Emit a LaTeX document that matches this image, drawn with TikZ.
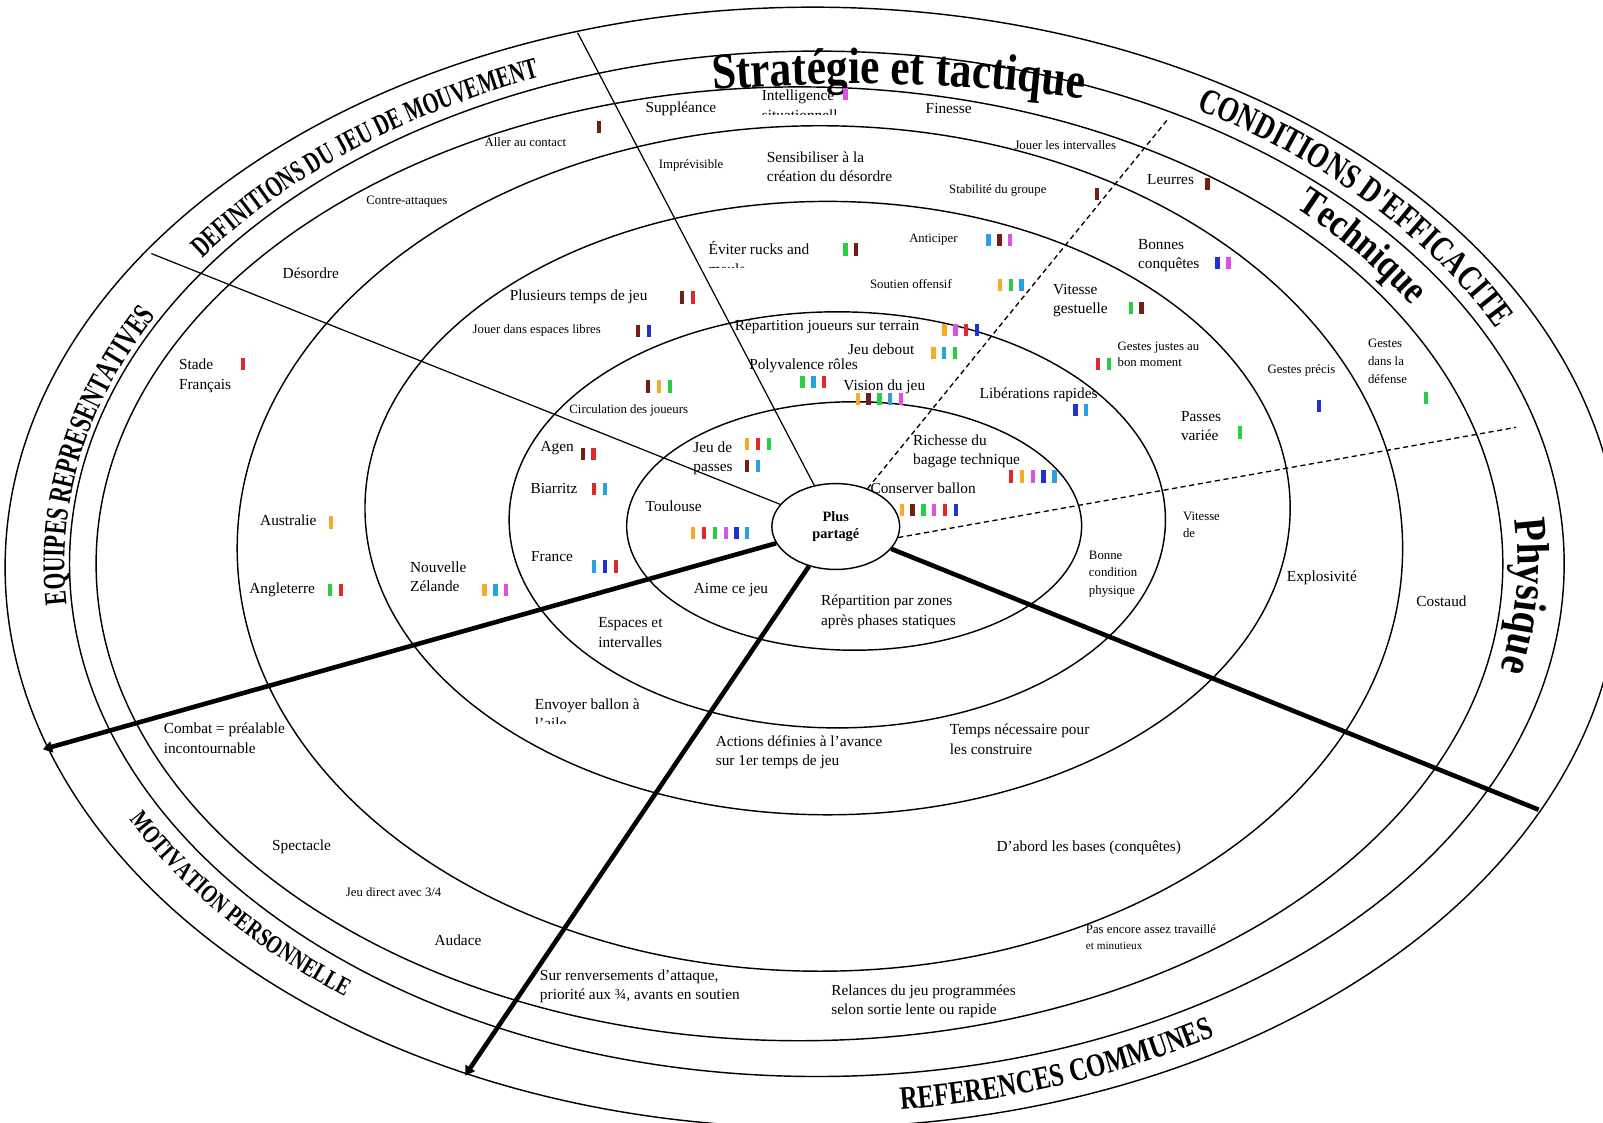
\documentclass[tikz,border=0pt]{standalone}
\usepackage{fontspec}
\setmainfont{Liberation Serif}
\newfontfamily\headA[FakeStretch=0.68]{Liberation Serif}
\newfontfamily\headB[FakeStretch=0.76]{Liberation Serif}
\newfontfamily\headC[FakeStretch=0.85]{Liberation Serif}
\usetikzlibrary{shapes.geometric,arrows.meta,decorations.text}
\definecolor{barorange}{RGB}{245,170,40}
\definecolor{barbrown}{RGB}{115,30,20}
\definecolor{bargreen}{RGB}{40,205,70}
\definecolor{barpink}{RGB}{220,80,230}
\definecolor{barred}{RGB}{225,40,40}
\definecolor{barblue}{RGB}{30,50,210}
\definecolor{barcyan}{RGB}{40,160,225}
\newcommand{\bars}[3]{\foreach \barcol [count=\barnum from 0] in {#3} {\fill[fill=\barcol] ({#1+10.6*\barnum-2.1},{-#2-6}) rectangle ++(4.2,12);}}
\newcommand{\arclabel}[6]{\path[decorate,decoration={text along path,text align=center,text={#6}}] (#1) ++(#4:#2 and #3) arc[start angle=#4,end angle=#5,x radius=#2,y radius=#3];}

\begin{document}
\begin{tikzpicture}[x=1pt,y=1pt]
  \tikzset{ring/.style={draw, line width=1.4pt}}
  \tikzset{sector/.style={line width=1.2pt}}
  \tikzset{arm/.style={line width=4.5pt}}
  \tikzset{split/.style={line width=1.3pt, dash pattern=on 5pt off 3.5pt}}
  \tikzset{lab/.style={inner sep=0pt, align=left, font=\fontsize{15}{19}\selectfont}}
  \tikzset{small/.style={inner sep=0pt, align=left, font=\fontsize{12.5}{16}\selectfont}}
  \useasboundingbox (0,-1098) rectangle (1568,0);
  \clip (0,-1098) rectangle (1568,0);

  \draw[ring] (835.5,-514.5) ellipse [x radius=222.5, y radius=121.5];
  \draw[ring] (819,-508.5) ellipse [x radius=321, y radius=203.5];
  \draw[ring] (809.5,-497) ellipse [x radius=452.5, y radius=300];
  \draw[ring] (802,-536.5) ellipse [x radius=570, y radius=413.5];
  \draw[ring] (782,-551.5) ellipse [x radius=688, y radius=466.5];
  \draw[ring] (799,-551.5) ellipse [x radius=731, y radius=501.5];
  \draw[ring] (795,-555) ellipse [x radius=790, y radius=548];

  \node[draw, ellipse, line width=1.4pt, minimum width=125pt, minimum height=84pt, inner sep=0pt, fill=white, align=center, font=\fontsize{14}{17}\selectfont\bfseries] (core) at (817.5,-515) {Plus\\partagé};

  \coordinate (topcut) at (565,-32);
  \coordinate (leftcut) at (148,-248);
  \coordinate (armW) at (42,-733);
  \coordinate (armS) at (455,-1052);
  \coordinate (armE) at (1505,-792);
  \coordinate (dashT) at (1142,-117);
  \coordinate (dashR) at (1483,-418);

  \draw[sector] (topcut) -- (core);
  \draw[sector] (leftcut) -- (core);
  \draw[arm, -{Triangle[length=9pt,width=11pt]}] (core) -- (armW);
  \draw[arm, -{Triangle[length=9pt,width=11pt]}] (core) -- (armS);
  \draw[arm] (core) -- (armE);
  \draw[split] (core.50) -- (dashT);
  \draw[split] (core.-10) -- (dashR);

  \arclabel{799,-551.5}{741}{511.5}{159.5}{99.5}{|\headA\bfseries\fontsize{29}{29}\selectfont|DEFINITIONS DU JEU DE MOUVEMENT}
  \arclabel{799,-551.5}{736}{506.5}{194}{143}{|\headA\bfseries\fontsize{31}{31}\selectfont|EQUIPES REPRESENTATIVES}
  \arclabel{799,-551.5}{762}{532.5}{194}{244}{|\headB\bfseries\fontsize{25}{25}\selectfont|MOTIVATION PERSONNELLE}
  \arclabel{799,-551.5}{766.5}{537}{264}{314}{|\headB\bfseries\fontsize{32}{32}\selectfont|REFERENCES COMMUNES}
  \arclabel{799,-551.5}{743}{513.5}{69}{15}{|\headB\bfseries\fontsize{35}{35}\selectfont|CONDITIONS D'EFFICACITE}
  \arclabel{782,-551.5}{703}{481.5}{57}{19}{|\headC\bfseries\fontsize{39}{39}\selectfont|Technique}
  \arclabel{782,-551.5}{702.5}{481}{14}{-21}{|\headC\bfseries\fontsize{45}{45}\selectfont|Physique}
  \arclabel{840,-1400}{1500}{1318}{97}{80}{|\headC\bfseries\fontsize{50}{50}\selectfont|Stratégie et tactique}

  \node[lab] (supp) at (666,-106) {Suppléance};
  \begin{scope}
    \clip (740,-78) rectangle (835,-112);
    \node[lab, anchor=north west] (intel) at (745,-88) {Intelligence\\situationnell};
  \end{scope}
  \node[lab] (finesse) at (928,-106) {Finesse};
  \node[small] (contact) at (514,-139) {Aller au contact};
  \node[small] (intervalles) at (1042,-142) {Jouer les intervalles};
  \node[lab] (leurres) at (1145,-176) {Leurres};
  \node[small] (contre) at (398,-197) {Contre-attaques};
  \node[lab, anchor=north west] (stade) at (175,-351) {Stade\\Français};
  \node[lab, anchor=north west] (combat) at (160,-707) {Combat = préalable\\incontournable};
  \node[lab] (spectacle) at (295,-828) {Spectacle};
  \node[small] (direct) at (385,-873) {Jeu direct avec 3/4};
  \node[lab] (audace) at (448,-920) {Audace};
  \node[lab, anchor=north west] (renvers) at (528,-948) {Sur renversements d’attaque,\\priorité aux ¾, avants en soutien};
  \node[lab, anchor=north west] (relances) at (813,-963) {Relances du jeu programmées\\selon sortie lente ou rapide};
  \node[small, anchor=north west] (pasencore) at (1062,-904) {Pas encore assez travaillé\\{\fontsize{11}{13}\selectfont et minutieux}};
  \node[small, anchor=north west, font=\fontsize{12.5}{18}\selectfont] (defense) at (1338,-331) {Gestes\\dans la\\défense};
  \node[lab] (costaud) at (1410,-588) {Costaud};

  \node[small] (imprev) at (676,-162) {Imprévisible};
  \node[lab, anchor=north west] (sensib) at (750,-148) {Sensibiliser à la\\création du désordre};
  \node[small] (stabil) at (976,-186) {Stabilité du groupe};
  \node[lab] (desordre) at (304,-267) {Désordre};
  \node[lab, anchor=north west] (bonnes) at (1113,-234) {Bonnes\\conquêtes};
  \node[small] (precis) at (1273,-362) {Gestes précis};
  \node[lab] (australie) at (282,-509) {Australie};
  \node[lab] (angleterre) at (276,-577) {Angleterre};
  \node[lab] (explos) at (1293,-565) {Explosivité};
  \node[lab] (abord) at (1065,-829) {D’abord les bases (conquêtes)};

  \begin{scope}
    \clip (688,-230) rectangle (800,-262);
    \node[lab, anchor=north west] (eviter) at (693,-236) {Éviter rucks and\\mauls};
  \end{scope}
  \node[small] (anticiper) at (913,-234) {Anticiper};
  \node[small] (soutien) at (891,-278) {Soutien offensif};
  \node[lab] (plusieurs) at (566,-290) {Plusieurs temps de jeu};
  \node[small] (espaceslibres) at (525,-323) {Jouer dans espaces libres};
  \node[lab, anchor=north west] (gestuelle) at (1030,-278) {Vitesse\\gestuelle};
  \node[small, anchor=north west] (justes) at (1093,-334) {Gestes justes au\\bon moment};
  \node[lab, anchor=north west] (passesvar) at (1155,-402) {Passes\\variée};
  \node[small, anchor=north west] (vitesse) at (1157,-501) {Vitesse\\de};
  \node[lab, anchor=north west] (nz) at (401,-549) {Nouvelle\\Zélande};
  \begin{scope}
    \clip (518,-678) rectangle (640,-708);
    \node[lab, anchor=north west] (envoyer) at (523,-683) {Envoyer ballon à\\l’aile};
  \end{scope}
  \node[lab, anchor=north west] (actions) at (700,-719) {Actions définies à l’avance\\sur 1er temps de jeu};
  \node[lab, anchor=north west] (tempsnec) at (929,-708) {Temps nécessaire pour\\les construire};

  \node[lab] (repjoueurs) at (809,-320) {Répartition joueurs sur terrain};
  \node[lab] (debout) at (862,-342) {Jeu debout};
  \node[lab] (polyv) at (786,-358) {Polyvalence rôles};
  \node[lab] (vision) at (865,-378) {Vision du jeu};
  \node[small] (circulation) at (615,-401) {Circulation des joueurs};
  \node[lab] (liberations) at (1016,-386) {Libérations rapides};
  \node[lab] (agen) at (545,-438) {Agen};
  \node[lab] (biarritz) at (542,-478) {Biarritz};
  \node[lab] (france) at (540,-544) {France};
  \node[small, anchor=north west, font=\fontsize{12.5}{17}\selectfont] (condition) at (1065,-539) {Bonne\\condition\\physique};
  \node[lab, anchor=north west] (espaces) at (585,-604) {Espaces et\\intervalles};

  \node[lab, anchor=north west] (passes) at (678,-432) {Jeu de\\passes};
  \node[lab, anchor=north west] (richesse) at (893,-425) {Richesse du\\bagage technique};
  \node[lab] (conserver) at (903,-478) {Conserver ballon};
  \node[lab] (toulouse) at (659,-495) {Toulouse};
  \node[lab] (aime) at (715,-577) {Aime ce jeu};
  \node[lab, anchor=north west] (repzones) at (803,-582) {Répartition par zones\\après phases statiques};

  \bars{586}{124}{barbrown}
  \bars{827}{92}{barpink}
  \bars{1073}{190}{barbrown}
  \bars{1181}{180}{barbrown}
  \bars{827}{244}{bargreen,barbrown}
  \bars{967}{235}{barcyan,barbrown,barpink}
  \bars{978}{279}{barorange,bargreen,barcyan}
  \bars{667}{291}{barbrown,barred}
  \bars{624}{324}{barbrown,barblue}
  \bars{1191}{257}{barblue,barpink}
  \bars{1106}{301}{bargreen,barbrown}
  \bars{924}{323}{barorange,barpink,barred,barblue}
  \bars{913}{345}{barorange,barcyan,bargreen}
  \bars{785}{374}{bargreen,barcyan,barred}
  \bars{839}{390}{barorange,barbrown,bargreen,barcyan,barpink}
  \bars{1074}{356}{barred,bargreen}
  \bars{238}{356}{barred}
  \bars{634}{378}{barbrown,barorange,bargreen}
  \bars{1052}{401}{barblue,barcyan}
  \bars{1213}{423}{bargreen}
  \bars{1290}{397}{barblue}
  \bars{1395}{389}{bargreen}
  \bars{570}{444}{barbrown,barred}
  \bars{581}{478}{barred,barcyan}
  \bars{731}{434}{barorange,barred,bargreen}
  \bars{731}{456}{barbrown,barcyan}
  \bars{989}{466}{barred,barorange,barpink,barblue,barcyan}
  \bars{882}{499}{barorange,barbrown,bargreen,barpink,barred,barblue}
  \bars{678}{521}{barorange,barred,bargreen,barpink,barblue,barcyan}
  \bars{324}{511}{barorange}
  \bars{581}{554}{barcyan,barblue,barred}
  \bars{474}{577}{barorange,barcyan,barpink}
  \bars{323}{577}{bargreen,barred}
\end{tikzpicture}
\end{document}
